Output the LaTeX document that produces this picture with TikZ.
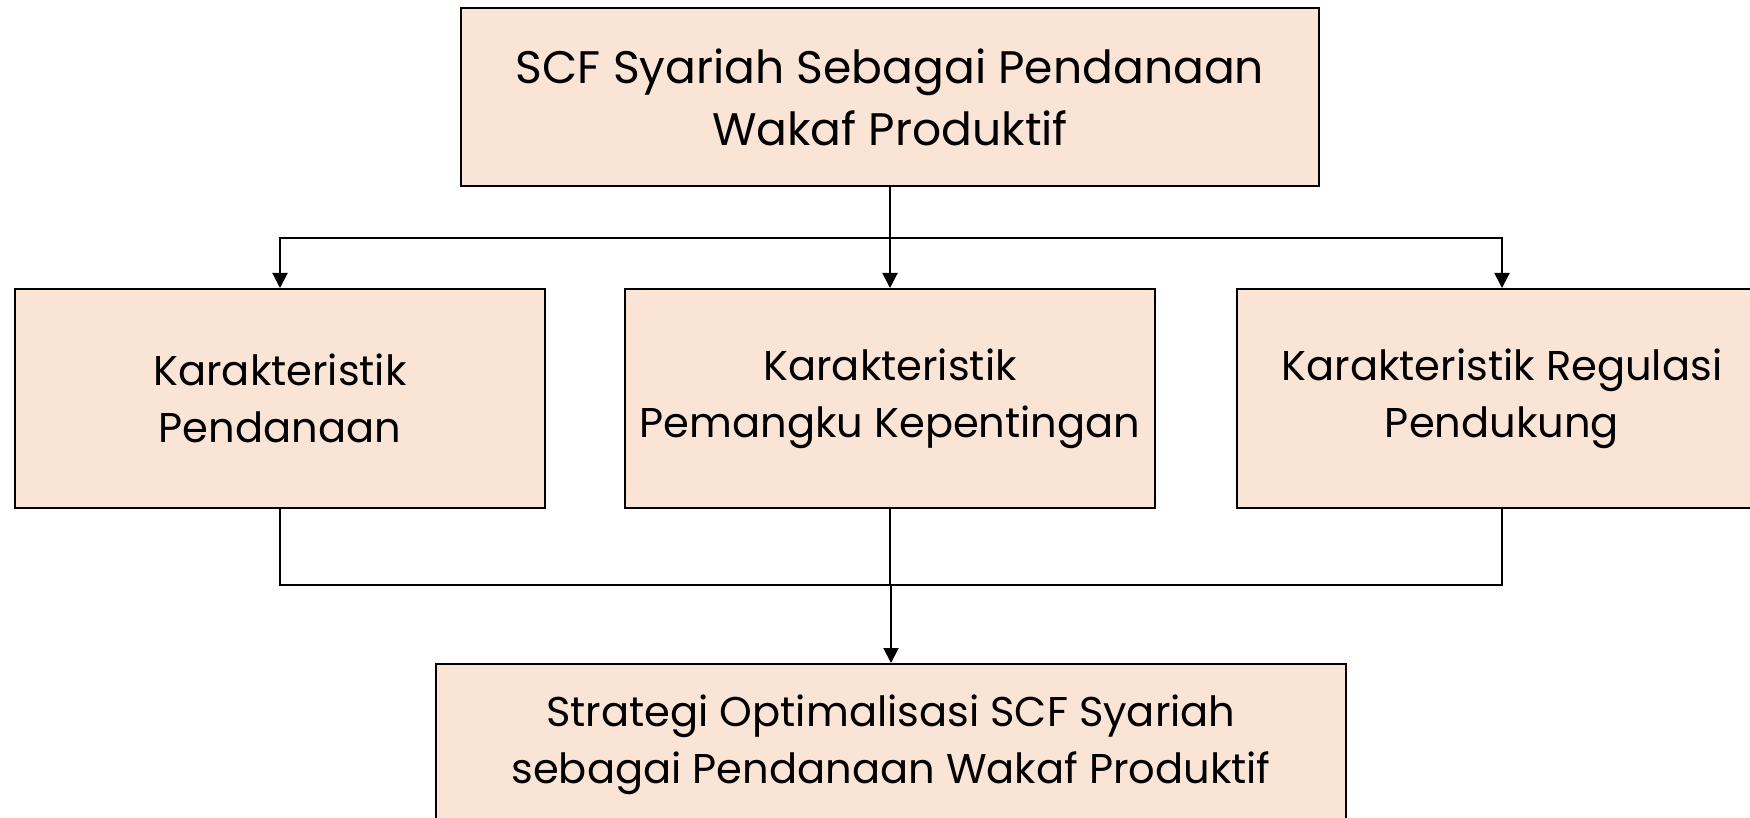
\documentclass[tikz,border=0pt]{standalone}
\usepackage{fontspec}
\setmainfont{Poppins}
\usepackage{tikz}
\usetikzlibrary{calc, arrows.meta}
\definecolor{peach}{RGB}{250,228,214}

\begin{document}
\begin{tikzpicture}[x=0.5pt, y=-0.5pt,
	kotak/.style={draw=black, line width=1pt, fill=peach, align=center, font=\fontsize{20.8}{28.5}\selectfont, inner sep=0pt},
	garis/.style={line width=1pt},
	panah/.style={line width=1pt, -{Triangle[length=7.5pt, width=7.5pt]}}]
	\useasboundingbox (0,0) rectangle (1750,818);
	\clip (0,0) rectangle (1750,818);

	\node[kotak, minimum width=429pt, minimum height=89pt, font=\fontsize{22.8}{31}\selectfont] (scf) at (890,97) {SCF Syariah Sebagai Pendanaan\\Wakaf Produktif};

	\node[kotak, minimum width=265pt, minimum height=109.5pt] (dana) at (280,398.5) {Karakteristik\\Pendanaan};
	\node[kotak, minimum width=265pt, minimum height=109.5pt] (pemangku) at (890,398.5) {Karakteristik\\Pemangku Kepentingan};
	\node[kotak, minimum width=265pt, minimum height=109.5pt] (regulasi) at (1502,398.5) {Karakteristik Regulasi\\Pendukung};

	\node[kotak, minimum width=455pt, minimum height=81pt] (strategi) at (891,745) {Strategi Optimalisasi SCF Syariah\\sebagai Pendanaan Wakaf Produktif};

	\coordinate (cabang) at (890,238);
	\coordinate (gabung) at (891,585);

	\draw[panah] (scf.south) -- (pemangku.north);
	\draw[panah] (cabang) -| (dana.north);
	\draw[panah] (cabang) -| (regulasi.north);

	\draw[garis] (dana.south) |- (gabung) -| (regulasi.south);
	\draw[garis] (pemangku.south) -- (pemangku.south |- gabung);
	\draw[panah] (gabung) -- (strategi.north);
\end{tikzpicture}
\end{document}
